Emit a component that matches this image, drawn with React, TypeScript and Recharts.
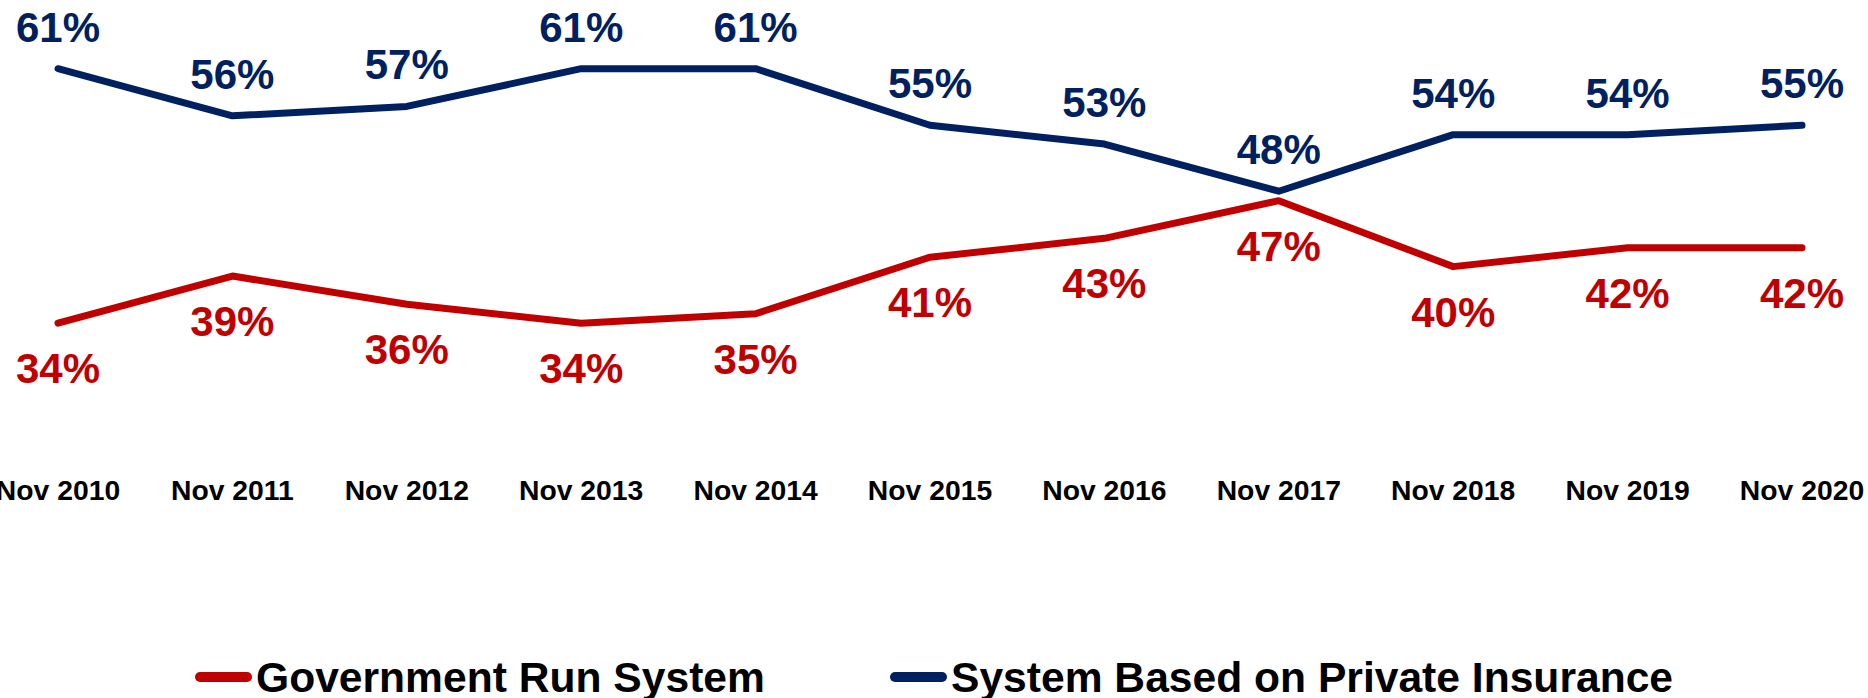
import { LineChart, Line, XAxis, YAxis, LabelList } from "recharts";

/* ---------- data ---------- */

const periods = [
  "Nov 2010",
  "Nov 2011",
  "Nov 2012",
  "Nov 2013",
  "Nov 2014",
  "Nov 2015",
  "Nov 2016",
  "Nov 2017",
  "Nov 2018",
  "Nov 2019",
  "Nov 2020",
];
const governmentRun = [34, 39, 36, 34, 35, 41, 43, 47, 40, 42, 42];
const privateInsurance = [61, 56, 57, 61, 61, 55, 53, 48, 54, 54, 55];

const data = periods.map((period, i) => ({
  period,
  gov: governmentRun[i],
  priv: privateInsurance[i],
}));

const RED = "#C00000";
const NAVY = "#002060";
const FONT = "'Liberation Sans', Arial, Helvetica, sans-serif";

/* ---------- value labels ---------- */

function makeLabel(color: string, dy: number) {
  return (props: any) => {
    const { x, y, value } = props;
    return (
      <text
        x={x}
        y={y + dy}
        textAnchor="middle"
        fill={color}
        fontFamily={FONT}
        fontWeight="bold"
        fontSize={42}
      >
        {value}%
      </text>
    );
  };
}

/* ---------- legend ---------- */

function LegendItem({ color, label, left }: { color: string; label: string; left: number }) {
  return (
    <div
      style={{
        position: "absolute",
        left,
        top: 650,
        display: "flex",
        alignItems: "center",
        whiteSpace: "nowrap",
      }}
    >
      <span
        style={{
          display: "inline-block",
          width: 57,
          height: 10,
          borderRadius: 5,
          backgroundColor: color,
          marginRight: 4,
        }}
      />
      <span
        style={{
          fontFamily: FONT,
          fontWeight: "bold",
          fontSize: 42.6,
          lineHeight: "54px",
          color: "#000",
        }}
      >
        {label}
      </span>
    </div>
  );
}

export default function App() {
  return (
    <div
      style={{
        position: "absolute",
        left: 0,
        top: 0,
        width: 1868,
        height: 698,
        overflow: "hidden",
        background: "#fff",
      }}
    >
      <LineChart
        width={1868}
        height={508}
        data={data}
        margin={{ top: 31, right: 66, left: 58, bottom: 0 }}
      >
        <XAxis
          dataKey="period"
          interval={0}
          axisLine={false}
          tickLine={false}
          tickSize={0}
          tickMargin={72}
          height={100}
          tick={{ fontSize: 28.3, fontWeight: "bold", fill: "#000", fontFamily: FONT }}
        />
        <YAxis hide domain={[25, 65]} />
        <Line
          dataKey="priv"
          name="System Based on Private Insurance"
          stroke={NAVY}
          strokeWidth={7}
          strokeLinecap="round"
          strokeLinejoin="round"
          dot={false}
          isAnimationActive={false}
        >
          <LabelList dataKey="priv" content={makeLabel(NAVY, -27)} />
        </Line>
        <Line
          dataKey="gov"
          name="Government Run System"
          stroke={RED}
          strokeWidth={7}
          strokeLinecap="round"
          strokeLinejoin="round"
          dot={false}
          isAnimationActive={false}
        >
          <LabelList dataKey="gov" content={makeLabel(RED, 60)} />
        </Line>
      </LineChart>
      <LegendItem color={RED} label="Government Run System" left={195} />
      <LegendItem color={NAVY} label="System Based on Private Insurance" left={890} />
    </div>
  );
}
